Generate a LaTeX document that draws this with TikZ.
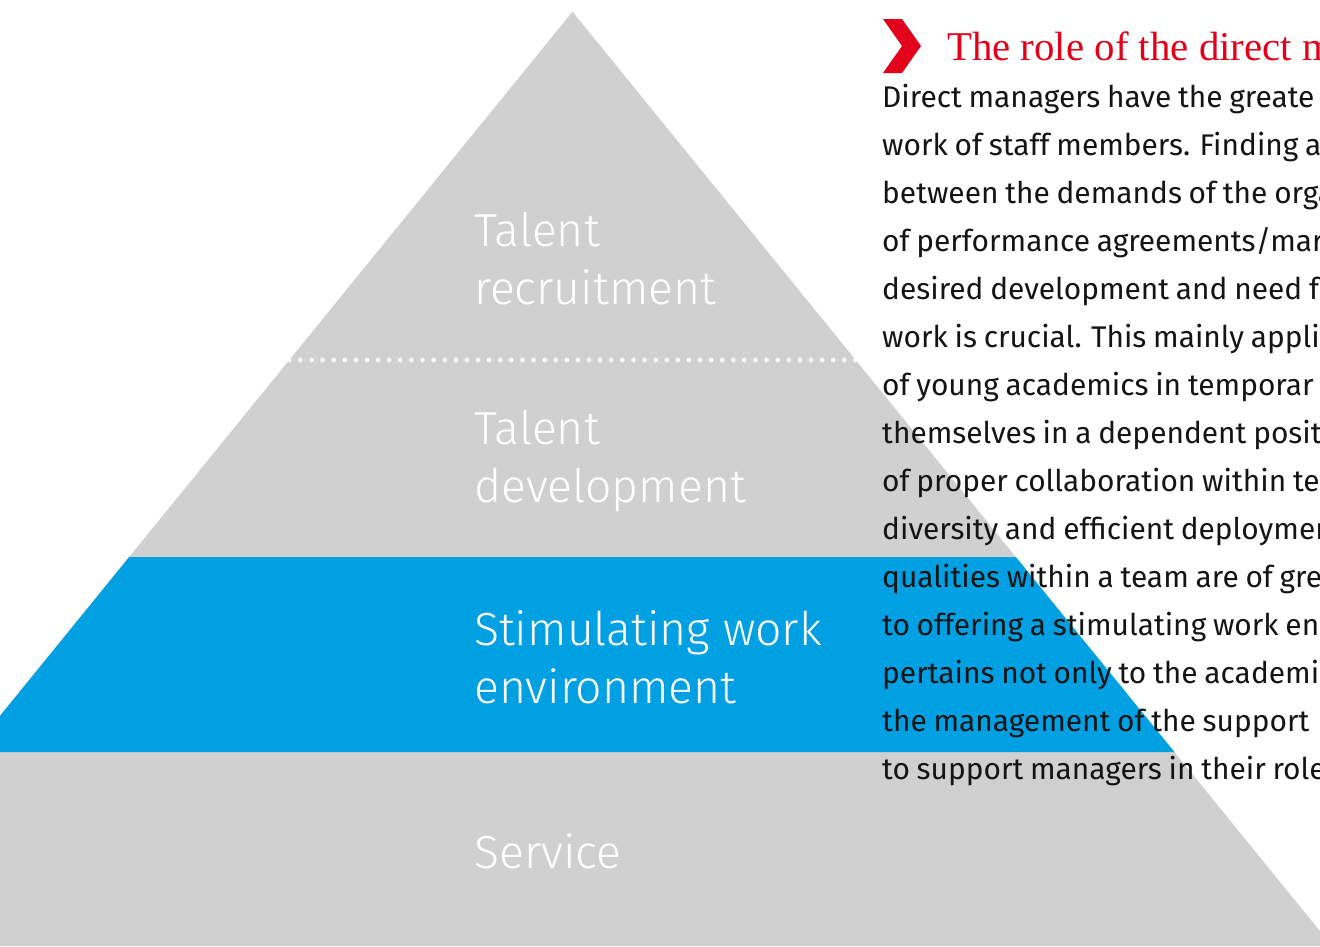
\documentclass[tikz,border=0pt]{standalone}
\usepackage{fontspec}
\setmainfont{Fira Sans}[WordSpace=0.85]
\IfFontExistsTF{Fira Sans Light}{\newfontfamily\levelfont{Fira Sans Light}}{\newfontfamily\levelfont{Fira Sans}}
\newfontfamily\titlefont{Liberation Serif}
\usetikzlibrary{calc}

\definecolor{pyrgray}{RGB}{208,208,208}
\definecolor{pyrblue}{RGB}{0,160,227}
\definecolor{rolered}{RGB}{226,0,26}
\definecolor{bodyink}{RGB}{20,20,20}

\tikzset{
  level/.style={anchor=base west,inner sep=0pt,text=white,align=left,
    font=\levelfont\fontsize{46.5}{58}\selectfont},
  bodyline/.style={anchor=base west,inner sep=0pt,text=bodyink,
    font=\fontsize{30}{48}\selectfont},
}

\begin{document}
\begin{tikzpicture}[x=1bp,y=-1bp]
\useasboundingbox (0,0) rectangle (1320,946);
\clip (0,0) rectangle (1320,946);

% pyramid
\coordinate (apex) at (572.5,11.7);
\fill[pyrgray] (apex) -- (-187.1,946) -- (1332.1,946) -- cycle;
\fill[pyrblue] (129.2,557) -- (1015.8,557) -- (1174.4,752) -- (-29.4,752) -- cycle;
\draw[white,line width=4.5bp,line cap=round,dash pattern=on 0bp off 11.1bp] (289.3,360) -- (855.7,360);

% labels, anchored on their last line
\node[level] (recruit) at (474,304) {Talent\\recruitment};
\node[level] (develop) at (474,502) {Talent\\development};
\node[level] (stimul) at (474,703) {Stimulating work\\environment};
\node[level] (service) at (474,868) {Service};

% text column
\fill[rolered] (883,19) -- (902,19) -- (921,46) -- (902,73) -- (883,73) -- (902,46) -- cycle;
\node[anchor=base west,inner sep=0pt,text=rolered,font=\titlefont\fontsize{41}{48}\selectfont] (title) at (947,60) {The role of the direct m};

\foreach \txt [count=\i from 0] in {Direct managers have the greate,
  work of staff members. Finding a,
  between the demands of the orga,
  of performance agreements/mar,
  desired development and need fo,
  work is crucial. This mainly applie,
  of young academics in temporar,
  themselves in a dependent positi,
  of proper collaboration within te,
  diversity and efficient deploymen,
  qualities within a team are of gre,
  to offering a stimulating work en,
  pertains not only to the academi,
  the management of the support,
  to support managers in their role}
  \node[bodyline] (body\i) at (882,{107+48*\i}) {\txt};

\end{tikzpicture}
\end{document}
